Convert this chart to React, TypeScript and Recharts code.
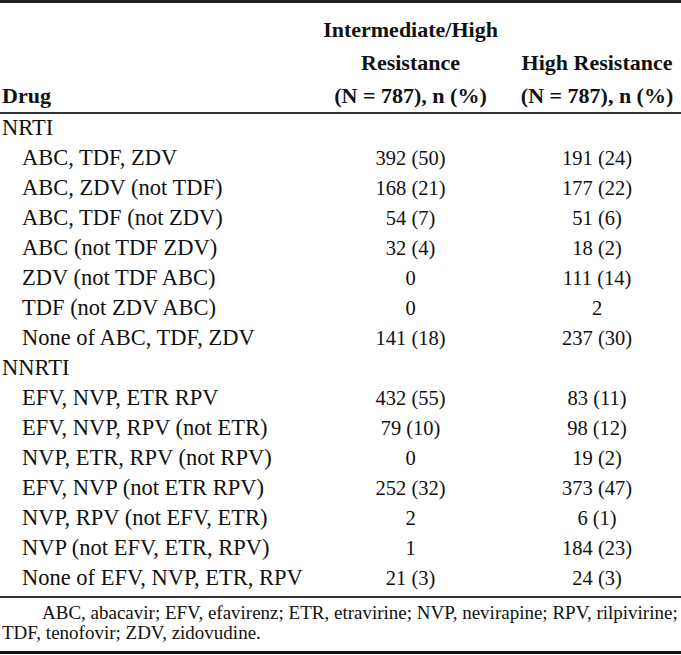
import React from "react";
import { ScatterChart, Scatter, XAxis, YAxis, Customized } from "recharts";

const drugs = [
  "NRTI",
  "ABC, TDF, ZDV",
  "ABC, ZDV (not TDF)",
  "ABC, TDF (not ZDV)",
  "ABC (not TDF ZDV)",
  "ZDV (not TDF ABC)",
  "TDF (not ZDV ABC)",
  "None of ABC, TDF, ZDV",
  "NNRTI",
  "EFV, NVP, ETR RPV",
  "EFV, NVP, RPV (not ETR)",
  "NVP, ETR, RPV (not RPV)",
  "EFV, NVP (not ETR RPV)",
  "NVP, RPV (not EFV, ETR)",
  "NVP (not EFV, ETR, RPV)",
  "None of EFV, NVP, ETR, RPV",
];
const groupRows = ["NRTI", "NNRTI"];

const intermediateHigh = [
  "", "392 (50)", "168 (21)", "54 (7)", "32 (4)", "0", "0", "141 (18)",
  "", "432 (55)", "79 (10)", "0", "252 (32)", "2", "1", "21 (3)",
];
const highResistance = [
  "", "191 (24)", "177 (22)", "51 (6)", "18 (2)", "111 (14)", "2", "237 (30)",
  "", "83 (11)", "98 (12)", "19 (2)", "373 (47)", "6 (1)", "184 (23)", "24 (3)",
];

const columnHeaders: Record<number, string[]> = {
  1: ["Intermediate/High", "Resistance", "(N = 787), n (%)"],
  2: ["High Resistance", "(N = 787), n (%)"],
};
const footnote = [
  "ABC, abacavir; EFV, efavirenz; ETR, etravirine; NVP, nevirapine; RPV, rilpivirine;",
  "TDF, tenofovir; ZDV, zidovudine.",
];

const FONT = "'Liberation Serif', 'Times New Roman', serif";
const W = 681;
const H = 655;
const HEADER_H = 113;
const LABEL_W = 224;

const col1 = drugs.map((d, i) => ({ row: i, col: 1, text: intermediateHigh[i] }));
const col2 = drugs.map((d, i) => ({ row: i, col: 2, text: highResistance[i] }));

const CellText = (props: any) => {
  const { cx, cy, payload } = props;
  if (!payload?.text) return null;
  return (
    <text x={cx} y={cy + 7} textAnchor="middle" fontFamily={FONT} fontSize={20.5} fill="#111">
      {payload.text}
    </text>
  );
};

const RowTick = (props: any) => {
  const { y, payload } = props;
  const label = drugs[payload.value];
  const indent = groupRows.includes(label) ? 2 : 22;
  return (
    <text x={indent} y={y + 7} textAnchor="start" fontFamily={FONT} fontSize={22.5} fill="#111">
      {label}
    </text>
  );
};

const HeaderTick = (props: any) => {
  const { x, payload } = props;
  const lines = columnHeaders[payload.value] || [];
  const n = lines.length;
  return (
    <g>
      {lines.map((l, i) => (
        <text
          key={i}
          x={x}
          y={HEADER_H - 10 - (n - 1 - i) * 33}
          textAnchor="middle"
          fontFamily={FONT}
          fontWeight="bold"
          fontSize={22}
          fill="#111"
        >
          {l}
        </text>
      ))}
    </g>
  );
};

const Rules = () => (
  <g>
    <rect x={0} y={0} width={W} height={3} fill="#222" />
    <text x={2} y={HEADER_H - 10} fontFamily={FONT} fontWeight="bold" fontSize={22} fill="#111">
      Drug
    </text>
    <rect x={0} y={HEADER_H - 1} width={W} height={2} fill="#333" />
    <rect x={0} y={596} width={W} height={2} fill="#333" />
    <text x={42} y={619} fontFamily={FONT} fontSize={19} fill="#111">
      {footnote[0]}
    </text>
    <text x={2} y={639} fontFamily={FONT} fontSize={19} fill="#111">
      {footnote[1]}
    </text>
    <rect x={0} y={H - 4} width={W} height={3} fill="#111" />
  </g>
);

export default function App() {
  return (
    <div style={{ position: "absolute", left: 0, top: 0, background: "#fff" }}>
      <ScatterChart width={W} height={H} margin={{ top: 0, right: 0, left: 0, bottom: H - HEADER_H - 480 }}>
        <XAxis
          type="number"
          dataKey="col"
          orientation="top"
          domain={[0, 2.45]}
          ticks={[1, 2]}
          height={HEADER_H}
          axisLine={false}
          tickLine={false}
          tickSize={0}
          tickMargin={0}
          tick={<HeaderTick />}
        />
        <YAxis
          type="number"
          dataKey="row"
          domain={[-0.5, drugs.length - 0.5]}
          ticks={drugs.map((_, i) => i)}
          interval={0}
          reversed
          width={LABEL_W}
          axisLine={false}
          tickLine={false}
          tick={<RowTick />}
        />
        <Scatter data={col1} shape={<CellText />} isAnimationActive={false} />
        <Scatter data={col2} shape={<CellText />} isAnimationActive={false} />
        <Customized component={<Rules />} />
      </ScatterChart>
    </div>
  );
}
